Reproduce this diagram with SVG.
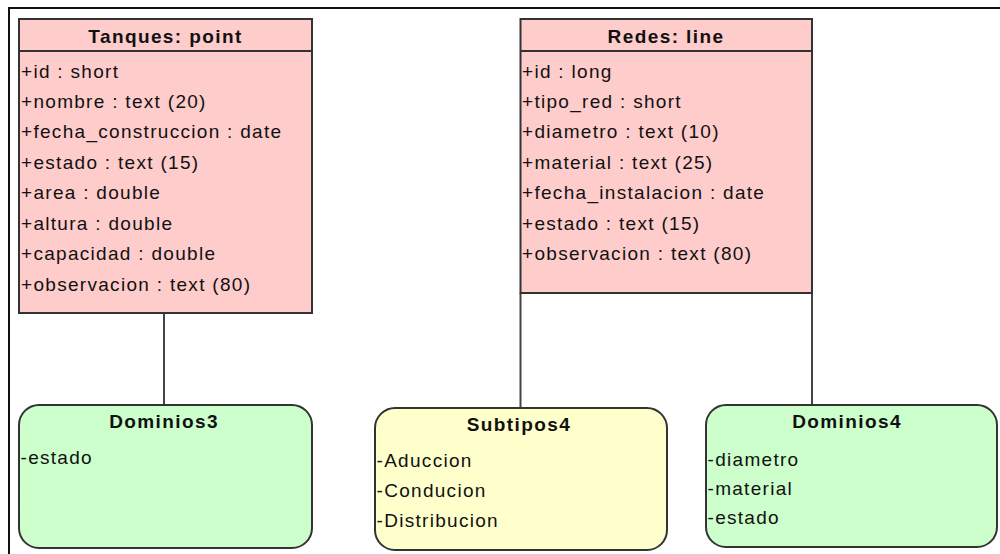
<svg xmlns="http://www.w3.org/2000/svg" width="1000" height="554" viewBox="0 0 1000 554">
<style>
.cls{fill:#ffcccc;stroke:#333;stroke-width:2}
.dom{fill:#ccffcc;stroke:#333;stroke-width:2}
.sub{fill:#ffffcc;stroke:#333;stroke-width:2}
.div{stroke:#333;stroke-width:2}
.conn line{stroke:#444;stroke-width:2}
.t{font-family:"Liberation Sans",Arial,sans-serif;font-size:19px;fill:#111;letter-spacing:1.3px}
.h{font-family:"Liberation Sans",Arial,sans-serif;font-size:19px;font-weight:bold;fill:#111;text-anchor:middle;letter-spacing:1.4px}
</style>
<rect width="1000" height="554" fill="#fff"/>
<path d="M9 554 V8 H1000" fill="none" stroke="#111" stroke-width="2"/>
<g class="conn" id="connectors">
<line x1="164" y1="313" x2="164" y2="405"/>
<line x1="520.5" y1="293" x2="520.5" y2="408"/>
<line x1="812" y1="293" x2="812" y2="405"/>
</g>
<g id="tanques">
<rect class="cls" x="19" y="19" width="293" height="294"/>
<line class="div" x1="19" y1="51" x2="312" y2="51"/>
<text class="h" x="165.5" y="43">Tanques: point</text>
<text class="t" x="21" y="77.5">+id : short</text>
<text class="t" x="21" y="107.9">+nombre : text (20)</text>
<text class="t" x="21" y="138.3">+fecha_construccion : date</text>
<text class="t" x="21" y="168.7">+estado : text (15)</text>
<text class="t" x="21" y="199.1">+area : double</text>
<text class="t" x="21" y="229.5">+altura : double</text>
<text class="t" x="21" y="259.9">+capacidad : double</text>
<text class="t" x="21" y="290.5">+observacion : text (80)</text>
</g>
<g id="redes">
<rect class="cls" x="520.5" y="19" width="291.5" height="274"/>
<line class="div" x1="520.5" y1="51" x2="812" y2="51"/>
<text class="h" x="666" y="43">Redes: line</text>
<text class="t" x="522" y="77.5">+id : long</text>
<text class="t" x="522" y="107.9">+tipo_red : short</text>
<text class="t" x="522" y="138.3">+diametro : text (10)</text>
<text class="t" x="522" y="168.7">+material : text (25)</text>
<text class="t" x="522" y="199.1">+fecha_instalacion : date</text>
<text class="t" x="522" y="229.5">+estado : text (15)</text>
<text class="t" x="522" y="259.9">+observacion : text (80)</text>
</g>
<g id="dominios3">
<rect class="dom" x="19" y="405" width="293" height="143" rx="20" ry="20"/>
<text class="h" x="164" y="428">Dominios3</text>
<text class="t" x="20.5" y="463.5">-estado</text>
</g>
<g id="subtipos4">
<rect class="sub" x="375" y="408" width="292" height="142" rx="20" ry="20"/>
<text class="h" x="519" y="430.5">Subtipos4</text>
<text class="t" x="376.5" y="466.5">-Aduccion</text>
<text class="t" x="376.5" y="496.5">-Conducion</text>
<text class="t" x="376.5" y="526.5">-Distribucion</text>
</g>
<g id="dominios4">
<rect class="dom" x="706" y="405" width="291" height="142" rx="20" ry="20"/>
<text class="h" x="847" y="428">Dominios4</text>
<text class="t" x="707.5" y="465.5">-diametro</text>
<text class="t" x="707.5" y="494.5">-material</text>
<text class="t" x="707.5" y="523.5">-estado</text>
</g>
</svg>
